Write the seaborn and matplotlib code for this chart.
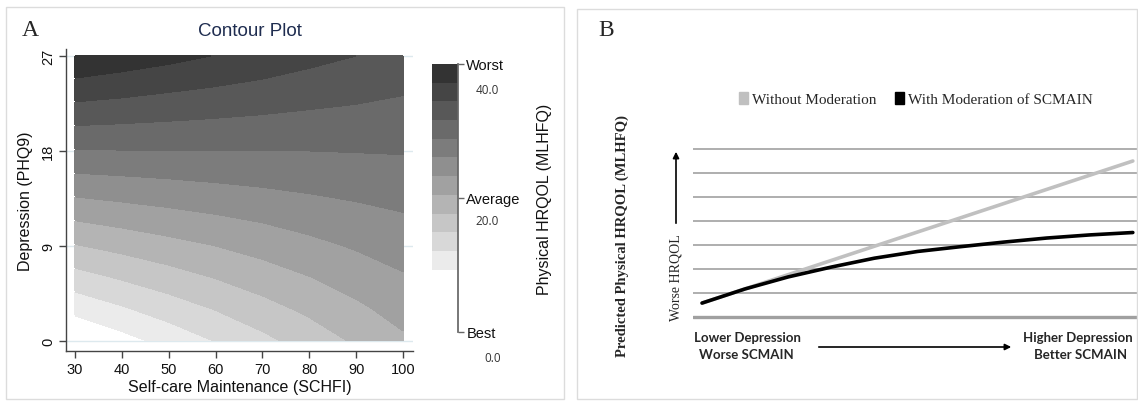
import numpy as np
import pandas as pd
import matplotlib
matplotlib.use("Agg")
import matplotlib.pyplot as plt
from matplotlib.patches import Rectangle, Patch, FancyArrowPatch
import seaborn as sns

# ---- panel A: predicted physical HRQOL (MLHFQ) ----
scm = [30, 40, 50, 60, 70, 80, 90, 100]            # self-care maintenance
phq = [0, 3, 6, 9, 12, 15, 18, 21, 24, 27]          # depression
hrqol_grid = [
    [6.9, 8.9, 11.0, 13.1, 15.2, 17.3, 19.4, 21.5],
    [10.8, 12.6, 14.4, 16.1, 17.9, 19.6, 21.4, 23.1],
    [14.8, 16.3, 17.7, 19.1, 20.5, 21.9, 23.3, 24.7],
    [18.8, 19.9, 21.0, 22.0, 23.1, 24.2, 25.3, 26.3],
    [22.8, 23.6, 24.3, 25.0, 25.7, 26.5, 27.2, 27.9],
    [26.8, 27.2, 27.6, 28.0, 28.4, 28.8, 29.2, 29.5],
    [30.8, 30.9, 30.9, 31.0, 31.0, 31.0, 31.1, 31.2],
    [34.8, 34.5, 34.2, 33.9, 33.6, 33.3, 33.1, 32.8],
    [38.8, 38.2, 37.5, 36.9, 36.3, 35.6, 35.0, 34.4],
    [42.8, 41.8, 40.9, 39.9, 38.9, 37.9, 37.0, 36.0],
]
levels = [10, 13, 16, 19, 22, 25, 28, 31, 34, 37, 40, 43]
cbar_ticks = [43, 21.5, 0]
cbar_labels = ["Worst", "Average", "Best"]
cbar_values = ["40.0", "20.0", "0.0"]

# ---- panel B: predicted HRQOL along depression / SCMAIN ----
dep_without = [0, 10]
hrqol_without = [0.58, 6.5]
dep_with = [0, 1, 2, 3, 4, 5, 6, 7, 8, 9, 10]
hrqol_with = [0.58, 1.17, 1.67, 2.08, 2.45, 2.73, 2.93, 3.12, 3.29, 3.42, 3.52]

sns.set_theme(style="white")
plt.rcParams["font.family"] = ["Liberation Sans", "DejaVu Sans"]

W, H = 1138, 402
fig = plt.figure(figsize=(W / 100, H / 100), dpi=100)


def fx(px):
    return px / W


def fy(py):
    return 1 - py / H


def axes_px(left, top, right, bottom):
    return fig.add_axes([fx(left), fy(bottom), (right - left) / W, (bottom - top) / H])


# panel frames
fig.add_artist(Rectangle((fx(6), fy(400)), (564 - 6) / W, (400 - 8) / H,
                         transform=fig.transFigure, fill=False, ec="#dcdcdc", lw=1))
fig.add_artist(Rectangle((fx(577), fy(400)), (1137 - 577) / W, (400 - 10) / H,
                         transform=fig.transFigure, fill=False, ec="#dcdcdc", lw=1))

# ---------------- panel A ----------------
ax = axes_px(66, 50, 413, 352)
grays = [str(v) for v in np.linspace(0.92, 0.2, len(levels) - 1)]
X, Y = np.meshgrid(scm, phq)
for g in [0, 9, 18, 27]:
    ax.axhline(g, color="#dde9ee", lw=1, zorder=0)
ax.contourf(X, Y, np.array(hrqol_grid), levels=levels, colors=grays, zorder=1)
ax.set_xlim(28.08, 102.13)
ax.set_ylim(-0.95, 27.66)
ax.set_xticks(scm)
ax.set_yticks([0, 9, 18, 27])
ax.set_facecolor("white")
for s in ["top", "right"]:
    ax.spines[s].set_visible(False)
for s in ["left", "bottom"]:
    ax.spines[s].set_color("#444444")
    ax.spines[s].set_linewidth(1)
ax.tick_params(length=5, width=1, color="#444444", labelsize=10.5, pad=3,
               left=True, bottom=True, labelcolor="#111111")
for lab in ax.get_yticklabels():
    lab.set_rotation(90)
    lab.set_va("center")
ax.set_xlabel("Self-care Maintenance (SCHFI)", fontsize=11.5, labelpad=2, color="#111111")
ax.set_ylabel("Depression (PHQ9)", fontsize=11.5, labelpad=6, color="#111111")
fig.text(fx(250), fy(32), "Contour Plot", fontsize=13.5, color="#1f2d50",
         ha="center", va="center")
fig.text(fx(30), fy(31), "A", fontsize=17, family="Liberation Serif",
         ha="center", va="center")

# colour legend
cax = axes_px(432, 65, 458, 333)
cax.bar(0.5, np.diff(levels), bottom=levels[:-1], width=1, color=grays,
        edgecolor=grays, linewidth=0)
cax.set_xlim(0, 1)
cax.set_ylim(0, 43)
for s in ["top", "left", "bottom"]:
    cax.spines[s].set_visible(False)
cax.spines["right"].set_color("#666666")
cax.yaxis.tick_right()
cax.set_yticks(cbar_ticks)
cax.set_yticklabels(cbar_labels)
cax.set_xticks([])
cax.tick_params(axis="y", length=4, width=1, color="#666666", labelsize=10.5, pad=2,
                right=True, labelcolor="#111111")
for val, py in zip(cbar_values, [91, 222, 358]):
    fig.text(fx(487 if val != "0.0" else 493), fy(py), val, fontsize=8.5,
             color="#333333", ha="center", va="center", family="Open Sans")
fig.text(fx(545), fy(199), "Physical HRQOL (MLHFQ)", fontsize=11.5, rotation=90,
         ha="center", va="center", color="#111111")

# ---------------- panel B ----------------
df = pd.concat([
    pd.DataFrame({"depression": dep_without, "hrqol": hrqol_without,
                  "model": "Without Moderation"}),
    pd.DataFrame({"depression": dep_with, "hrqol": hrqol_with,
                  "model": "With Moderation of SCMAIN"}),
])
palette = {"Without Moderation": "#c0c0c0", "With Moderation of SCMAIN": "#000000"}

ax2 = axes_px(693, 146, 1138, 322)
ax2.set_yticks(range(8))
ax2.grid(axis="y", color="#a8a8a8", lw=1.3)
ax2.axhline(0, color="#a0a0a0", lw=2.4)
sns.lineplot(data=df, x="depression", y="hrqol", hue="model", palette=palette,
             lw=2.6, legend=False, ax=ax2)
ax2.set_xlim(-0.21, 10.12)
ax2.set_ylim(-0.167, 7.167)
ax2.set_xlabel("")
ax2.set_ylabel("")
ax2.set_xticks([])
ax2.tick_params(left=False, labelleft=False)
for s in ax2.spines.values():
    s.set_visible(False)

serif = ["Liberation Serif", "DejaVu Serif"]
fig.text(fx(606), fy(31), "B", fontsize=17, family=serif, ha="center", va="center")
handles = [Patch(color=palette[k], label=k) for k in palette]
fig.legend(handles=handles, loc="center", bbox_to_anchor=(fx(916), fy(100)), ncol=2,
           frameon=False, handlelength=0.6, handleheight=0.8, handletextpad=0.25,
           columnspacing=1.2, prop={"family": serif, "size": 11})
fig.text(fx(622), fy(236), "Predicted Physical HRQOL (MLHFQ)", fontsize=10.5,
         family=serif, weight="bold", rotation=90, ha="center", va="center")
fig.text(fx(676), fy(278), "Worse HRQOL", fontsize=10, family=serif, rotation=90,
         ha="center", va="center")
fig.add_artist(FancyArrowPatch((fx(676), fy(227)), (fx(676), fy(150)),
                               transform=fig.transFigure, arrowstyle="-|>",
                               mutation_scale=9, color="black", lw=1.2))
fig.add_artist(FancyArrowPatch((fx(816), fy(348)), (fx(1014), fy(348)),
                               transform=fig.transFigure, arrowstyle="-|>",
                               mutation_scale=9, color="black", lw=1.2))
sans_b = ["Lato", "DejaVu Sans"]
fig.text(fx(747), fy(338), "Lower Depression", fontsize=9.5, family=sans_b,
         weight="bold", ha="center", va="center")
fig.text(fx(746), fy(355), "Worse SCMAIN", fontsize=9.5, family=sans_b,
         weight="bold", ha="center", va="center")
fig.text(fx(1078), fy(338), "Higher Depression", fontsize=9.5, family=sans_b,
         weight="bold", ha="center", va="center")
fig.text(fx(1081), fy(355), "Better SCMAIN", fontsize=9.5, family=sans_b,
         weight="bold", ha="center", va="center")

fig.savefig("out.png", dpi=100)
